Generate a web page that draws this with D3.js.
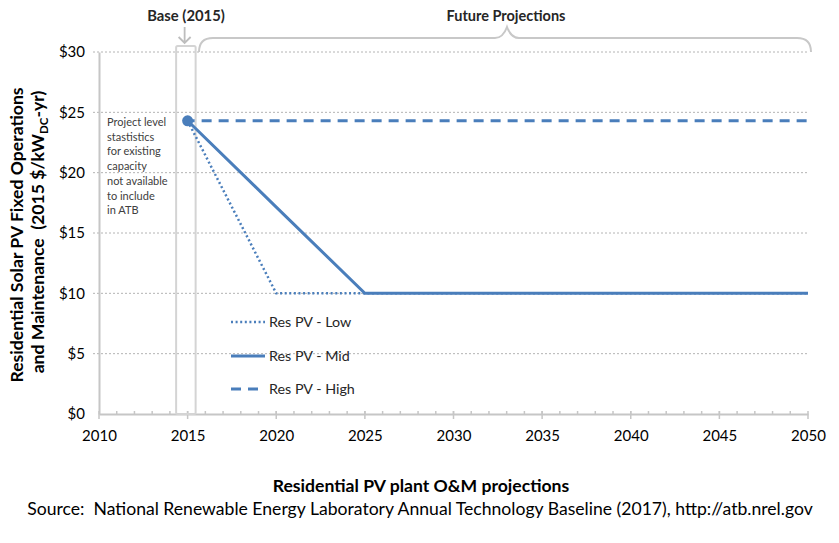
<!DOCTYPE html>
<html><head><meta charset="utf-8">
<script src="https://cdn.jsdelivr.net/npm/d3@7"></script>
<style>body{margin:0;background:#fff}svg{display:block}text{font-family:Lato,"Open Sans",sans-serif}</style>
</head><body>
<svg id="c" width="839" height="543"></svg>
<script>
const years = [2015, 2020, 2025, 2030, 2035, 2040, 2045, 2050];
const lowValues  = [24.3, 10, 10, 10, 10, 10, 10, 10];
const midValues  = [24.3, 17.15, 10, 10, 10, 10, 10, 10];
const highValues = [24.3, 24.3, 24.3, 24.3, 24.3, 24.3, 24.3, 24.3];
const baseYear = 2015, baseValue = 24.3;
const xTicks = [2010, 2015, 2020, 2025, 2030, 2035, 2040, 2045, 2050];
const yTicks = [0, 5, 10, 15, 20, 25, 30];
const seriesNames = ["Res PV - Low", "Res PV - Mid", "Res PV - High"];
const noteLines = ["Project level", "stastistics", "for existing", "capacity", "not available", "to include", "in ATB"];

const svg = d3.select("#c");
const x = d3.scaleLinear().domain([2010, 2050]).range([99, 808]);
const y = d3.scaleLinear().domain([0, 30]).range([414, 52]);
const blue = "#4a7ebb", grid = "#b4b4b4", axisGrey = "#c6c6c6";

// gridlines
svg.append("g").selectAll("line").data(yTicks.filter(d => d > 0)).join("line")
  .attr("x1", 93).attr("x2", x(2050)).attr("y1", d => y(d)).attr("y2", d => y(d))
  .attr("stroke", grid).attr("stroke-width", 1).attr("stroke-dasharray", "2,2");

// y axis
const ya = svg.append("g").attr("transform", `translate(${x(2010)},0)`)
  .call(d3.axisLeft(y).tickValues(yTicks).tickFormat(d => "$" + d).tickSize(0).tickPadding(14));
ya.select(".domain").attr("stroke", axisGrey).attr("stroke-width", 2);
ya.selectAll("text").attr("font-size", 15).attr("fill", "#000").style("font-family", "Lato");

// x axis
const xa = svg.append("g").attr("transform", `translate(0,${y(0)})`)
  .call(d3.axisBottom(x).tickValues(xTicks).tickFormat(d3.format("d")).tickSize(0).tickPadding(16));
xa.select(".domain").attr("stroke", axisGrey).attr("stroke-width", 2);
xa.selectAll("text").attr("font-size", 15).attr("fill", "#000").style("font-family", "Lato");
// minor ticks
svg.append("g").selectAll("line").data(d3.range(2011, 2050)).join("line")
  .attr("x1", d => x(d)).attr("x2", d => x(d))
  .attr("y1", y(0) - 3).attr("y2", y(0))
  .attr("stroke", axisGrey).attr("stroke-width", 1.5);
svg.append("g").selectAll("line").data(xTicks).join("line")
  .attr("x1", d => x(d)).attr("x2", d => x(d))
  .attr("y1", y(0) - 3).attr("y2", y(0) + 5)
  .attr("stroke", axisGrey).attr("stroke-width", 1.5);

// base box
svg.append("rect").attr("x", x(baseYear) - 11.5).attr("y", 46).attr("width", 19.5).attr("height", y(0) - 46)
  .attr("rx", 1.5).attr("fill", "none").attr("stroke", "#d4d4d4").attr("stroke-width", 2);
// arrow
svg.append("path").attr("d", `M${x(baseYear) - 3},27 V43 M${x(baseYear) - 9},37 L${x(baseYear) - 3},43 L${x(baseYear) + 3},37`)
  .attr("fill", "none").attr("stroke", "#bdbdbd").attr("stroke-width", 1.8);
svg.append("text").attr("x", 186).attr("y", 21).attr("text-anchor", "middle")
  .attr("font-size", 14.8).attr("font-weight", "bold").attr("fill", "#262626").text("Base (2015)");

// brace
svg.append("path")
  .attr("d", "M199,52 Q199,38 213,38 H495 Q503,38 507,27 Q511,38 519,38 H797 Q811,38 811,52")
  .attr("fill", "none").attr("stroke", "#c8c8c8").attr("stroke-width", 2);
svg.append("text").attr("x", 506).attr("y", 21).attr("text-anchor", "middle")
  .attr("font-size", 14.5).attr("font-weight", "bold").attr("fill", "#262626").text("Future Projections");

// note
svg.append("text").attr("x", 107).attr("y", 126).attr("font-size", 11).attr("fill", "#404040")
  .selectAll("tspan").data(noteLines).join("tspan")
  .attr("x", 107).attr("dy", (d, i) => i === 0 ? 0 : 14.7).text(d => d);

// series
const line = d3.line().x(d => x(d[0])).y(d => y(d[1]));
const zip = vals => years.map((yr, i) => [yr, vals[i]]);
const styles = [
  {dash: "2,2.6", w: 2.5},
  {dash: null, w: 3},
  {dash: "10,7", w: 3}
];
const data = [lowValues, midValues, highValues];
[0, 2, 1].forEach(i => {
  const p = svg.append("path").attr("d", line(zip(data[i]))).attr("fill", "none")
    .attr("stroke", blue).attr("stroke-width", styles[i].w);
  if (styles[i].dash) p.attr("stroke-dasharray", styles[i].dash);
  if (i === 2) p.attr("stroke-dashoffset", -14);
});
svg.append("circle").attr("cx", x(baseYear)).attr("cy", y(baseValue)).attr("r", 5.5).attr("fill", blue);

// legend
const legY = [322, 356, 389];
seriesNames.forEach((n, i) => {
  const l = svg.append("line").attr("x1", 231).attr("x2", 265).attr("y1", legY[i]).attr("y2", legY[i])
    .attr("stroke", blue).attr("stroke-width", styles[i].w);
  if (styles[i].dash) l.attr("stroke-dasharray", styles[i].dash);
  svg.append("text").attr("x", 269).attr("y", legY[i] + 5).attr("font-size", 14.3).attr("fill", "#262626").text(n);
});

// axis titles
const yt = svg.append("text").attr("transform", "rotate(-90)")
  .attr("font-size", 17.6).attr("font-weight", "bold").attr("fill", "#000").attr("text-anchor", "middle");
yt.append("tspan").attr("x", -235).attr("y", 23).text("Residential Solar PV Fixed Operations");
const t2 = yt.append("tspan").attr("x", -232).attr("y", 44);
t2.append("tspan").text("and Maintenance\u00a0\u00a0(2015 $/kW");
t2.append("tspan").attr("font-size", 11.5).attr("dy", 4).text("DC");
t2.append("tspan").attr("dy", -4).text("-yr)");

svg.append("text").attr("x", 421).attr("y", 492).attr("text-anchor", "middle")
  .attr("font-size", 17.6).attr("font-weight", "bold").attr("fill", "#000").text("Residential PV plant O&M projections");
svg.append("text").attr("x", 420).attr("y", 515).attr("text-anchor", "middle")
  .attr("font-size", 17.6).attr("fill", "#000").text("Source:\u00a0\u00a0National Renewable Energy Laboratory Annual Technology Baseline (2017), http://atb.nrel.gov");
</script>
</body></html>
